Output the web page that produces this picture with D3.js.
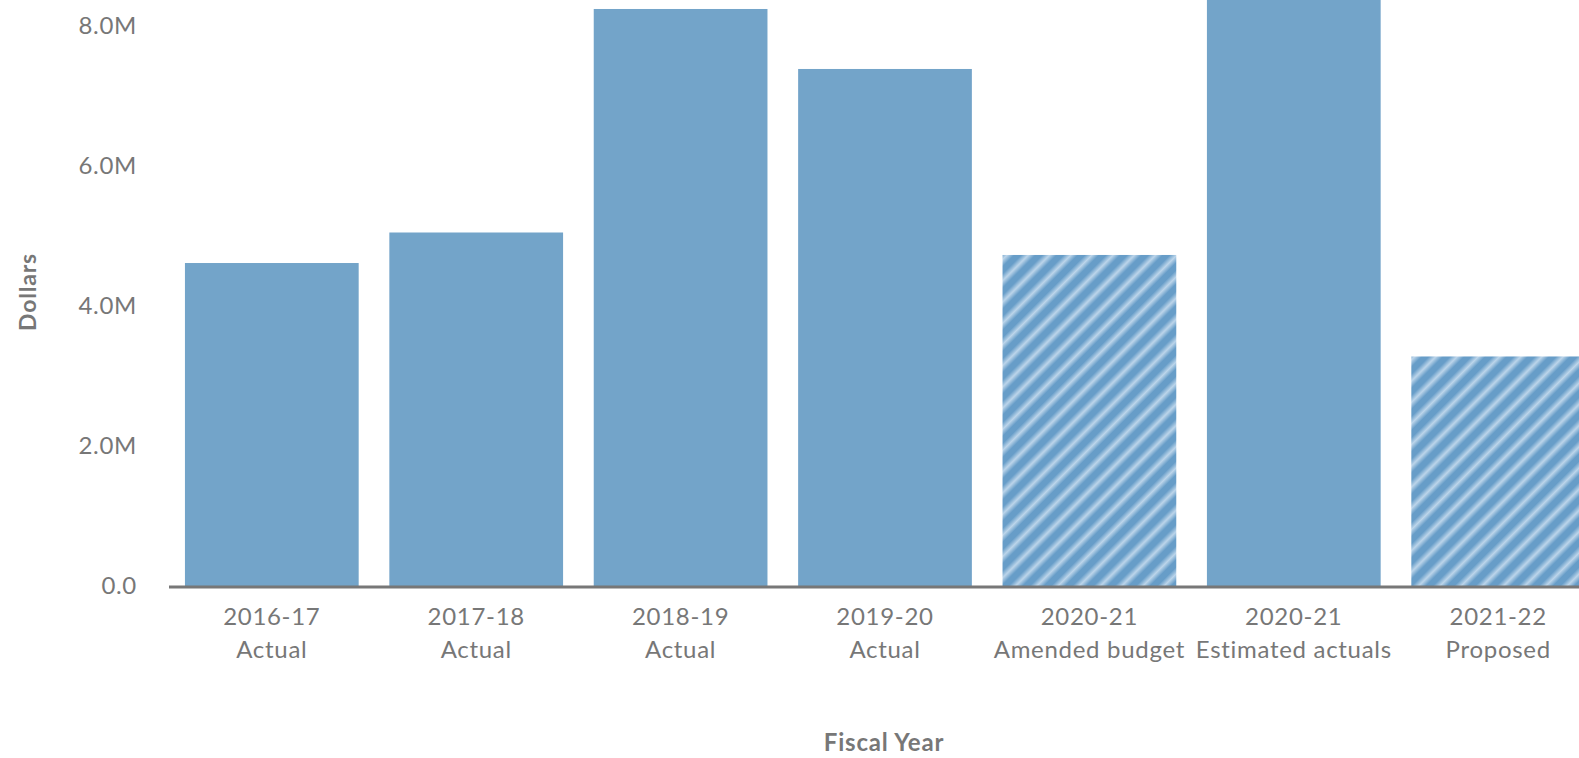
<!DOCTYPE html>
<html>
<head>
<meta charset="utf-8">
<script src="https://cdn.jsdelivr.net/npm/d3@7/dist/d3.min.js"></script>
<style>
  html, body { margin: 0; padding: 0; background: #fff; overflow: hidden; }
  svg { display: block; }
  text { font-family: Lato, "Open Sans", sans-serif; }
</style>
</head>
<body>
<svg id="chart" width="1579" height="758"></svg>
<script>
// Fiscal years and their budget stage
const years = ["2016-17", "2017-18", "2018-19", "2019-20", "2020-21", "2020-21", "2021-22"];
const stages = ["Actual", "Actual", "Actual", "Actual", "Amended budget", "Estimated actuals", "Proposed"];
// Spending in dollars
const amounts = [4614000, 5050000, 8243000, 7386000, 4729000, 8900000, 3279000];
// Y-axis ticks
const yTicks = [0, 2000000, 4000000, 6000000, 8000000];
const yTickLabels = ["0.0", "2.0M", "4.0M", "6.0M", "8.0M"];
// Stages shown as planned figures (hatched)
const plannedStages = ["Amended budget", "Proposed"];

const svg = d3.select("#chart");
const grey = "#777777";
const solidBlue = "#73a4c9";
const hatchBase = "#679dc8";
const hatchLight = "#bcd5ea";
const labelSize = "24px";
const labelSpacing = "0.7px";

// Hatch pattern for planned figures
const defs = svg.append("defs");
const grad = defs.append("linearGradient")
  .attr("id", "stripeGrad").attr("x1", 0).attr("y1", 0).attr("x2", 0).attr("y2", 1);
grad.append("stop").attr("offset", "0%").attr("stop-color", hatchBase);
grad.append("stop").attr("offset", "50%").attr("stop-color", hatchLight);
grad.append("stop").attr("offset", "100%").attr("stop-color", hatchBase);
const pat = defs.append("pattern")
  .attr("id", "hatch")
  .attr("patternUnits", "userSpaceOnUse")
  .attr("width", 15).attr("height", 15)
  .attr("patternTransform", "rotate(-45)");
pat.append("rect").attr("width", 15).attr("height", 15).attr("fill", hatchBase);
pat.append("rect").attr("x", 0).attr("y", 2.5).attr("width", 15).attr("height", 10).attr("fill", "url(#stripeGrad)");

const x = d3.scaleBand()
  .domain(d3.range(years.length))
  .range([169, 1601])
  .paddingInner(0.15)
  .paddingOuter(0.078);

const y = d3.scaleLinear()
  .domain([0, 8000000])
  .range([586, 26]);

// Bars
svg.append("g").selectAll("rect")
  .data(amounts)
  .join("rect")
  .attr("x", (d, i) => x(i))
  .attr("width", x.bandwidth())
  .attr("y", d => y(d))
  .attr("height", d => y(0) - y(d))
  .attr("fill", (d, i) => plannedStages.includes(stages[i]) ? "url(#hatch)" : solidBlue);

// Baseline
svg.append("line")
  .attr("x1", 169).attr("x2", 1579)
  .attr("y1", 587).attr("y2", 587)
  .attr("stroke", grey).attr("stroke-width", 3);

// Y axis
const yAxis = d3.axisLeft(y)
  .tickValues(yTicks)
  .tickSize(0)
  .tickPadding(32)
  .tickFormat((d, i) => yTickLabels[i]);
const gy = svg.append("g").attr("transform", "translate(169,0)").call(yAxis);
gy.select(".domain").remove();
gy.selectAll("text")
  .attr("fill", grey)
  .style("font-size", labelSize)
  .style("letter-spacing", labelSpacing)
  .style("font-family", "Lato, sans-serif");

// X axis labels (two lines)
const xAxis = d3.axisBottom(x).tickSize(0).tickFormat(() => "");
const gx = svg.append("g").attr("transform", "translate(0,587)").call(xAxis);
gx.select(".domain").remove();
gx.selectAll(".tick").each(function(d) {
  const t = d3.select(this).append("text")
    .attr("fill", grey)
    .attr("text-anchor", "middle")
    .style("font-size", labelSize)
    .style("letter-spacing", labelSpacing);
  t.append("tspan").attr("x", 0).attr("y", 38).text(years[d]);
  t.append("tspan").attr("x", 0).attr("y", 71).text(stages[d]);
});

// Axis titles
svg.append("text")
  .attr("transform", "translate(36,292) rotate(-90)")
  .attr("text-anchor", "middle")
  .attr("fill", grey)
  .style("font-size", "23px")
  .style("letter-spacing", "0.8px")
  .style("font-weight", "bold")
  .text("Dollars");

svg.append("text")
  .attr("x", 884).attr("y", 751)
  .attr("text-anchor", "middle")
  .attr("fill", grey)
  .style("font-size", "24px")
  .style("letter-spacing", "0.8px")
  .style("font-weight", "bold")
  .text("Fiscal Year");
</script>
</body>
</html>
